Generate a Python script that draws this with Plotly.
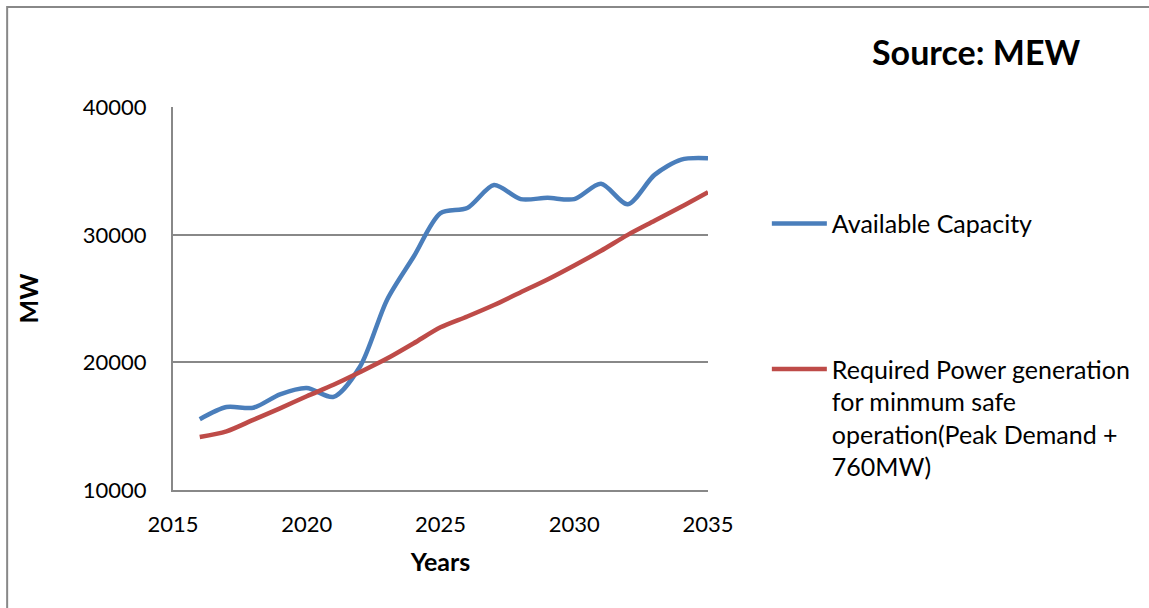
import plotly.graph_objects as go

years = list(range(2016, 2036))
available_capacity = [15550, 16500, 16450, 17500, 18000, 17300, 19700, 24900, 28300, 31700,
                      32100, 33900, 32800, 32900, 32800, 34000, 32400, 34700, 35900, 36000]
required_power = [14150, 14600, 15500, 16400, 17350, 18250, 19250, 20300, 21500, 22750,
                  23600, 24500, 25500, 26500, 27600, 28750, 30000, 31100, 32200, 33350]

series_names = ["Available Capacity",
                "Required Power generation<br>for minmum safe<br>operation(Peak Demand +<br>760MW)"]
series_colors = ["#4A7EBB", "#BE4B48"]

x_ticks = [2015, 2020, 2025, 2030, 2035]
y_ticks = [10000, 20000, 30000, 40000]
y_tick_text = ["10000", "20000", "30000", "40000"]

FONT = "Lato"

fig = go.Figure()
for name, vals, col, grp in zip(series_names, [available_capacity, required_power], series_colors, ["a", "b"]):
    fig.add_trace(go.Scatter(x=years, y=vals, mode="lines", name=name, legendgroup=grp,
                             line=dict(color=col, width=4.5, shape="spline", smoothing=0.8)))

fig.update_layout(
    width=1149, height=608,
    margin=dict(l=173, r=441, t=107, b=118),
    paper_bgcolor="white", plot_bgcolor="white",
    font=dict(family=FONT, color="black", size=22),
    showlegend=True,
    legend=dict(x=1.11, y=0.755, xanchor="left", yanchor="top",
                font=dict(family=FONT, size=25, color="black"),
                tracegroupgap=110, valign="top", itemwidth=55,
                bgcolor="rgba(0,0,0,0)"),
    xaxis=dict(range=[2015, 2035], tickvals=x_ticks, showgrid=False, automargin=False,
               showline=True, linecolor="#888888", linewidth=2, ticks="",
               tickfont=dict(family=FONT, size=22), ticklabelstandoff=14,
               title=dict(text="<b>Years</b>", font=dict(family=FONT, size=25), standoff=17),
               zeroline=False),
    yaxis=dict(range=[10000, 40020], tickvals=y_ticks, ticktext=y_tick_text, showgrid=True,
               gridcolor="#888888", gridwidth=2, automargin=False,
               showline=True, linecolor="#888888", linewidth=2, ticks="",
               tickfont=dict(family=FONT, size=22), ticklabelstandoff=20,
               title=dict(text="<b>MW</b>", font=dict(family=FONT, size=25), standoff=37),
               zeroline=False),
    annotations=[dict(text="<b>Source: MEW</b>", xref="paper", yref="paper",
                      x=1.501, y=1.146, xanchor="center", yanchor="middle", showarrow=False,
                      font=dict(family=FONT, size=34, color="black"))],
    shapes=[dict(type="rect", xref="paper", yref="paper",
                 x0=-0.310, x1=2.2, y0=-0.45, y1=1.261,
                 line=dict(color="#888888", width=2), fillcolor="rgba(0,0,0,0)", layer="below")],
)

fig.write_html("out.html", config={"displayModeBar": False},
               post_script="document.body.style.margin='0';")
